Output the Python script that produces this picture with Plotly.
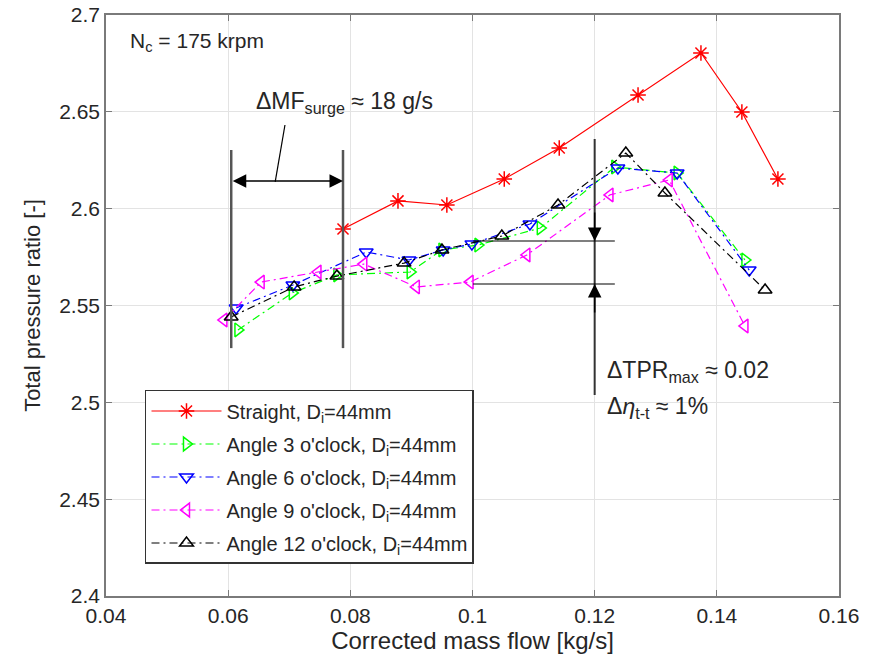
import plotly.graph_objects as go

# Compressor speed line at N_c = 175 krpm, different inlet orientations
straight_mf = [0.0788, 0.0878, 0.0958, 0.1052, 0.1142, 0.1271, 0.1374, 0.1441, 0.1500]
straight_tpr = [2.5895, 2.6040, 2.6019, 2.6153, 2.6313, 2.6587, 2.6804, 2.6499, 2.6153]

angle3_mf = [0.0616, 0.0705, 0.0778, 0.0898, 0.0950, 0.1009, 0.1111, 0.1233, 0.1335, 0.1446]
angle3_tpr = [2.5374, 2.5565, 2.5658, 2.5673, 2.5787, 2.5812, 2.5900, 2.6215, 2.6184, 2.5735]

angle6_mf = [0.0613, 0.0706, 0.0826, 0.0896, 0.0952, 0.0999, 0.1094, 0.1238, 0.1335, 0.1453]
angle6_tpr = [2.5487, 2.5606, 2.5776, 2.5735, 2.5787, 2.5818, 2.5921, 2.6210, 2.6184, 2.5683]

angle9_mf = [0.0593, 0.0654, 0.0747, 0.0822, 0.0908, 0.0996, 0.1089, 0.1225, 0.1322, 0.1446]
angle9_tpr = [2.5425, 2.5621, 2.5673, 2.5714, 2.5596, 2.5621, 2.5761, 2.6071, 2.6148, 2.5394]

angle12_mf = [0.0605, 0.0708, 0.0778, 0.0888, 0.0950, 0.1048, 0.1140, 0.1251, 0.1315, 0.1479]
angle12_tpr = [2.5441, 2.5596, 2.5652, 2.5719, 2.5787, 2.5859, 2.6019, 2.6287, 2.6081, 2.5580]

x_ticks = [0.04, 0.06, 0.08, 0.1, 0.12, 0.14, 0.16]
x_tick_text = ["0.04", "0.06", "0.08", "0.1", "0.12", "0.14", "0.16"]
y_ticks = [2.4, 2.45, 2.5, 2.55, 2.6, 2.65, 2.7]
y_tick_text = ["2.4", "2.45", "2.5", "2.55", "2.6", "2.65", "2.7"]

FONT = "Liberation Sans, Arial, sans-serif"
TXT = "#262626"
DASHDOT = "8px,4px,2px,4px"

series = [
    ("Straight, D<sub>i</sub>=44mm", straight_mf, straight_tpr, "#ff0000", "solid", "asterisk-open", 13),
    ("Angle 3 o'clock, D<sub>i</sub>=44mm", angle3_mf, angle3_tpr, "#00ff00", DASHDOT, "triangle-right-open", 12),
    ("Angle 6 o'clock, D<sub>i</sub>=44mm", angle6_mf, angle6_tpr, "#0000ff", DASHDOT, "triangle-down-open", 12),
    ("Angle 9 o'clock, D<sub>i</sub>=44mm", angle9_mf, angle9_tpr, "#ff00ff", DASHDOT, "triangle-left-open", 12),
    ("Angle 12 o'clock, D<sub>i</sub>=44mm", angle12_mf, angle12_tpr, "#000000", DASHDOT, "triangle-up-open", 12),
]

fig = go.Figure()
for i, (name, xs, ys, col, dash, sym, sz) in enumerate(series):
    fig.add_trace(go.Scatter(
        x=xs, y=ys, name=name, mode="lines+markers", legendgroup=f"g{i}",
        line=dict(color=col, width=1.2, dash=dash),
        marker=dict(symbol=sym, size=sz, color=col, line=dict(color=col, width=1.5)),
    ))

# Surge margin markers
surge_left, surge_right = 0.0605, 0.0788
shapes = [
    dict(type="line", x0=surge_left, x1=surge_left, y0=2.528, y1=2.6303,
         line=dict(color="#555555", width=2.5)),
    dict(type="line", x0=surge_right, x1=surge_right, y0=2.528, y1=2.6303,
         line=dict(color="#555555", width=2.5)),
    dict(type="line", x0=0.0677, x1=0.0693, y0=2.6138, y1=2.6432,
         line=dict(color="#000000", width=1.2)),
    # Pressure ratio difference markers
    dict(type="line", x0=0.12, x1=0.12, y0=2.5038, y1=2.636,
         line=dict(color="#333333", width=2)),
    dict(type="line", x0=0.1001, x1=0.1233, y0=2.5833, y1=2.5833,
         line=dict(color="#000000", width=1.2)),
    dict(type="line", x0=0.1001, x1=0.1233, y0=2.5611, y1=2.5611,
         line=dict(color="#000000", width=1.2)),
]

annotations = [
    # double-headed surge arrow
    dict(x=surge_right, y=2.6143, ax=surge_left, ay=2.6143, xref="x", yref="y",
         axref="x", ayref="y", text="", showarrow=True, arrowhead=2, arrowsize=1.8,
         arrowwidth=1.5, arrowside="end+start", arrowcolor="#000000"),
    # arrows onto the two pressure-ratio levels
    dict(x=0.12, y=2.5833, ax=0, ay=-30, xref="x", yref="y", text="", showarrow=True,
         arrowhead=2, arrowsize=1.8, arrowwidth=1.5, arrowcolor="#000000"),
    dict(x=0.12, y=2.5611, ax=0, ay=30, xref="x", yref="y", text="", showarrow=True,
         arrowhead=2, arrowsize=1.8, arrowwidth=1.5, arrowcolor="#000000"),
    dict(x=0.0436, y=2.686, xref="x", yref="y", xanchor="left", yanchor="middle",
         text="N<sub>c</sub> = 175 krpm", showarrow=False, font=dict(size=21, color=TXT)),
    dict(x=0.0642, y=2.6546, xref="x", yref="y", xanchor="left", yanchor="middle",
         text="ΔMF<sub>surge</sub> ≈ 18 g/s", showarrow=False, font=dict(size=23, color=TXT)),
    dict(x=0.1217, y=2.5157, xref="x", yref="y", xanchor="left", yanchor="middle",
         text="ΔTPR<sub>max</sub> ≈ 0.02", showarrow=False, font=dict(size=23, color=TXT)),
    dict(x=0.1217, y=2.4971, xref="x", yref="y", xanchor="left", yanchor="middle",
         text="Δ<i>η</i><sub>t-t</sub> ≈ 1%", showarrow=False, font=dict(size=23, color=TXT)),
]

axis_common = dict(
    showgrid=True, gridcolor="#e3e3e3", gridwidth=1, zeroline=False,
    showline=True, linecolor="#7a7a7a", linewidth=1.5, mirror="ticks",
    ticks="inside", ticklen=6, tickcolor="#7a7a7a", automargin=False,
    tickfont=dict(family=FONT, size=21, color=TXT),
)

fig.update_layout(
    width=877, height=666,
    margin=dict(l=106, r=38, t=15, b=70),
    paper_bgcolor="white", plot_bgcolor="white",
    font=dict(family=FONT, color=TXT),
    shapes=shapes, annotations=annotations,
    xaxis=dict(range=[0.04, 0.16], tickvals=x_ticks, ticktext=x_tick_text,
               title=dict(text="Corrected mass flow [kg/s]", font=dict(size=24, color=TXT), standoff=4),
               **axis_common),
    yaxis=dict(range=[2.4, 2.7], tickvals=y_ticks, ticktext=y_tick_text,
               title=dict(text="Total pressure ratio [-]", font=dict(size=22, color=TXT), standoff=12),
               **axis_common),
    legend=dict(x=0.0532, y=0.3546, xanchor="left", yanchor="top",
                bgcolor="white", bordercolor="#333333", borderwidth=1.5,
                font=dict(family=FONT, size=20, color=TXT), itemwidth=70,
                tracegroupgap=4, traceorder="grouped"),
    showlegend=True,
)

fig.write_html("out.html")
